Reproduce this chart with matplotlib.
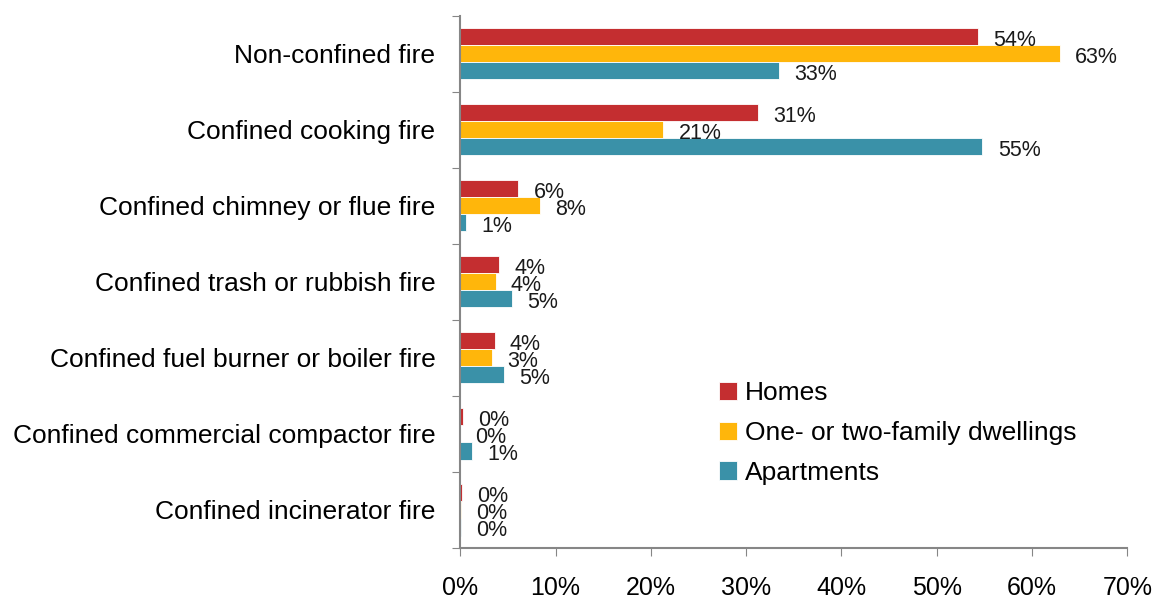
import numpy as np
import matplotlib.pyplot as plt

# -------------------------
# Data (in %)
# -------------------------
categories = [
    "Non-confined fire",
    "Confined cooking fire",
    "Confined chimney or flue fire",
    "Confined trash or rubbish fire",
    "Confined fuel burner or boiler fire",
    "Confined commercial compactor fire",
    "Confined incinerator fire",
]
series_names = ["Homes", "One- or two-family dwellings", "Apartments"]
homes = [54.3, 31.2, 6.1, 4.1, 3.6, 0.3, 0.15]
one_two_family = [62.9, 21.3, 8.4, 3.7, 3.3, 0.0, 0.05]
apartments = [33.4, 54.8, 0.6, 5.4, 4.6, 1.2, 0.05]
x_ticks = [0, 10, 20, 30, 40, 50, 60, 70]

colors = ["#C42E30", "#FFB60B", "#3A91A8"]

plt.rcParams['font.family'] = ['Liberation Sans', 'DejaVu Sans']

fig = plt.figure(figsize=(11.55, 6.02), dpi=100)
ax = fig.add_axes([0.3985, 0.0897, 0.5775, 0.884])

y = np.arange(len(categories))
h = 0.224
all_series = [homes, one_two_family, apartments]

for k, (vals, name, col) in enumerate(zip(all_series, series_names, colors)):
    pos = y + (k - 1) * h
    ax.barh(pos, vals, height=h, color=col, label=name, edgecolor="white", linewidth=0.6)
    for p, v in zip(pos, vals):
        ax.annotate(f"{v:.0f}%", xy=(v, p), xytext=(11, -2.5), textcoords="offset points",
                    ha="left", va="center", fontsize=15.5, color="#1a1a1a")

ax.set_xlim(0, 70)
ax.set_ylim(len(categories) - 0.5, -0.5)
ax.set_xticks(x_ticks)
ax.set_xticklabels([f"{t}%" for t in x_ticks], fontsize=18)
ax.tick_params(axis="x", length=6, color="#868686", pad=14, direction="out")

# category boundary ticks (major) and centred labels (minor)
ax.set_yticks(np.arange(-0.5, len(categories), 1.0))
ax.set_yticklabels([])
ax.tick_params(axis="y", which="major", length=6, color="#868686")
ax.set_yticks(y, minor=True)
ax.set_yticklabels(categories, minor=True, fontsize=19)
ax.tick_params(axis="y", which="minor", length=0, pad=18)

for s in ["top", "right"]:
    ax.spines[s].set_visible(False)
for s in ["left", "bottom"]:
    ax.spines[s].set_color("#868686")
    ax.spines[s].set_linewidth(1.5)

ax.legend(loc="upper left", bbox_to_anchor=(0.352, 0.358), frameon=False, fontsize=19,
          handlelength=0.7, handleheight=0.7, handletextpad=0.3, labelspacing=0.6)

fig.savefig("out.png", dpi=100)
